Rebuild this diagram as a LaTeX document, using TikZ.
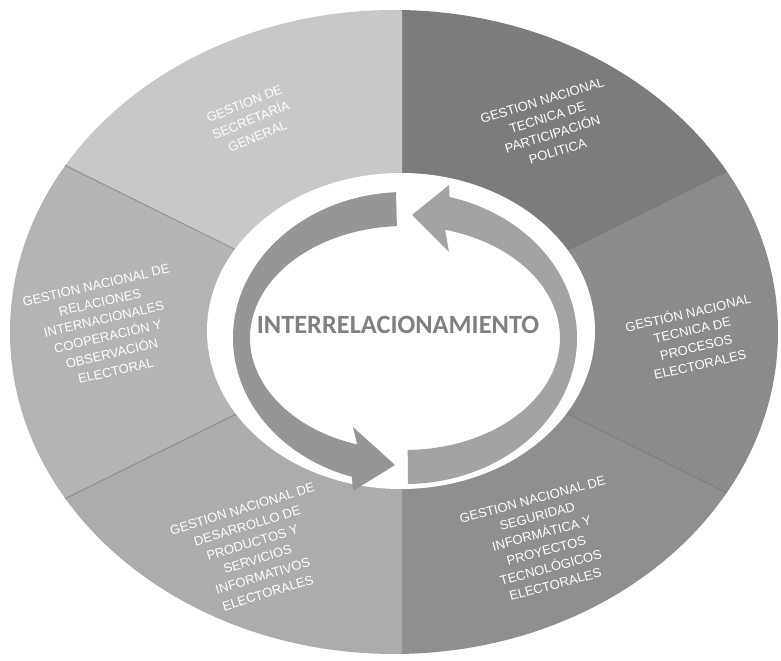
\documentclass[tikz,border=0pt]{standalone}
\usepackage{fontspec}
\setsansfont{Liberation Sans}
\newfontfamily\rotulofont{Carlito}
\usepackage{tikz}

\definecolor{grisParticipacion}{HTML}{7C7C7C}
\definecolor{grisSecretaria}{HTML}{C8C8C8}
\definecolor{grisRelaciones}{HTML}{B4B4B4}
\definecolor{grisDesarrollo}{HTML}{ACACAC}
\definecolor{grisSeguridad}{HTML}{8F8F8F}
\definecolor{grisProcesos}{HTML}{8B8B8B}
\definecolor{flechaIzq}{HTML}{969696}
\definecolor{flechaDer}{HTML}{A3A3A3}

\begin{document}
\begin{tikzpicture}[x=0.02cm, y=0.02cm,
    area/.style={text=white, font=\sffamily\fontsize{7.4}{10}\selectfont, align=center, inner sep=0pt},
    limite/.style={draw=black!60, line width=0.6pt, opacity=0.5}]
      \useasboundingbox (0,0) rectangle (781,661);

      % anillo exterior
      \begin{scope}
        \clip (394,329) ellipse [x radius=384, y radius=322];
        \fill[grisParticipacion] (402,329) -- ++(30:420 and 360) arc[start angle=30, end angle=90, x radius=420, y radius=360] -- cycle;
        \fill[grisSecretaria] (402,329) -- ++(90:420 and 360) arc[start angle=90, end angle=150, x radius=420, y radius=360] -- cycle;
        \fill[grisRelaciones] (402,329) -- ++(150:420 and 360) arc[start angle=150, end angle=210, x radius=420, y radius=360] -- cycle;
        \fill[grisDesarrollo] (402,329) -- ++(210:420 and 360) arc[start angle=210, end angle=270, x radius=420, y radius=360] -- cycle;
        \fill[grisSeguridad] (402,329) -- ++(270:420 and 360) arc[start angle=270, end angle=330, x radius=420, y radius=360] -- cycle;
        \fill[grisProcesos] (402,329) -- ++(330:420 and 360) arc[start angle=330, end angle=390, x radius=420, y radius=360] -- cycle;
        \draw[limite] (402,329) -- ++(30:420 and 360);
        \draw[limite] (402,329) -- ++(150:420 and 360);
        \draw[limite] (402,329) -- ++(210:420 and 360);
        \draw[limite] (402,329) -- ++(330:420 and 360);
      \end{scope}
      \fill[white] (401,330) ellipse [x radius=194, y radius=158];

      % flechas del ciclo
      \fill[flechaIzq] (396.0,468.8) arc[start angle=93, end angle=252, x radius=172, y radius=146]
        -- (353,170) -- (395,196) -- (353,234) -- (357.1,216.5)
        arc[start angle=252, end angle=93, x radius=155, y radius=112] -- cycle;
      \fill[flechaDer] (408.0,177.0) arc[start angle=271, end angle=435, x radius=172, y radius=146]
        -- (449,476) -- (412,446) -- (449,409) -- (445.1,431.2)
        arc[start angle=435, end angle=271, x radius=155, y radius=112] -- cycle;

      \node[text=black!50, font=\rotulofont\bfseries\fontsize{15}{17}\selectfont] (centro) at (398,336) {INTERRELACIONAMIENTO};

      % gestiones
      \node[area, rotate=22] (secretaria) at (251,541) {GESTION DE\\SECRETARÍA\\GENERAL};
      \node[area, rotate=17] (participacion) at (550,535) {GESTION NACIONAL\\TECNICA DE\\PARTICIPACIÓN\\POLITICA};
      \node[area, rotate=13] (procesos) at (694,323) {GESTIÓN NACIONAL\\TECNICA DE\\PROCESOS\\ELECTORALES};
      \node[area, rotate=15] (seguridad) at (544,119) {GESTION NACIONAL DE\\SEGURIDAD\\INFORMÁTICA Y\\PROYECTOS\\TECNOLÓGICOS\\ELECTORALES};
      \node[area, rotate=17] (desarrollo) at (255,110) {GESTION NACIONAL DE\\DESARROLLO DE\\PRODUCTOS Y\\SERVICIOS\\INFORMATIVOS\\ELECTORALES};
      \node[area, rotate=13] (relaciones) at (106,333) {GESTION NACIONAL DE\\RELACIONES\\INTERNACIONALES\\COOPERACIÓN Y\\OBSERVACIÓN\\ELECTORAL};
    \end{tikzpicture}
\end{document}
